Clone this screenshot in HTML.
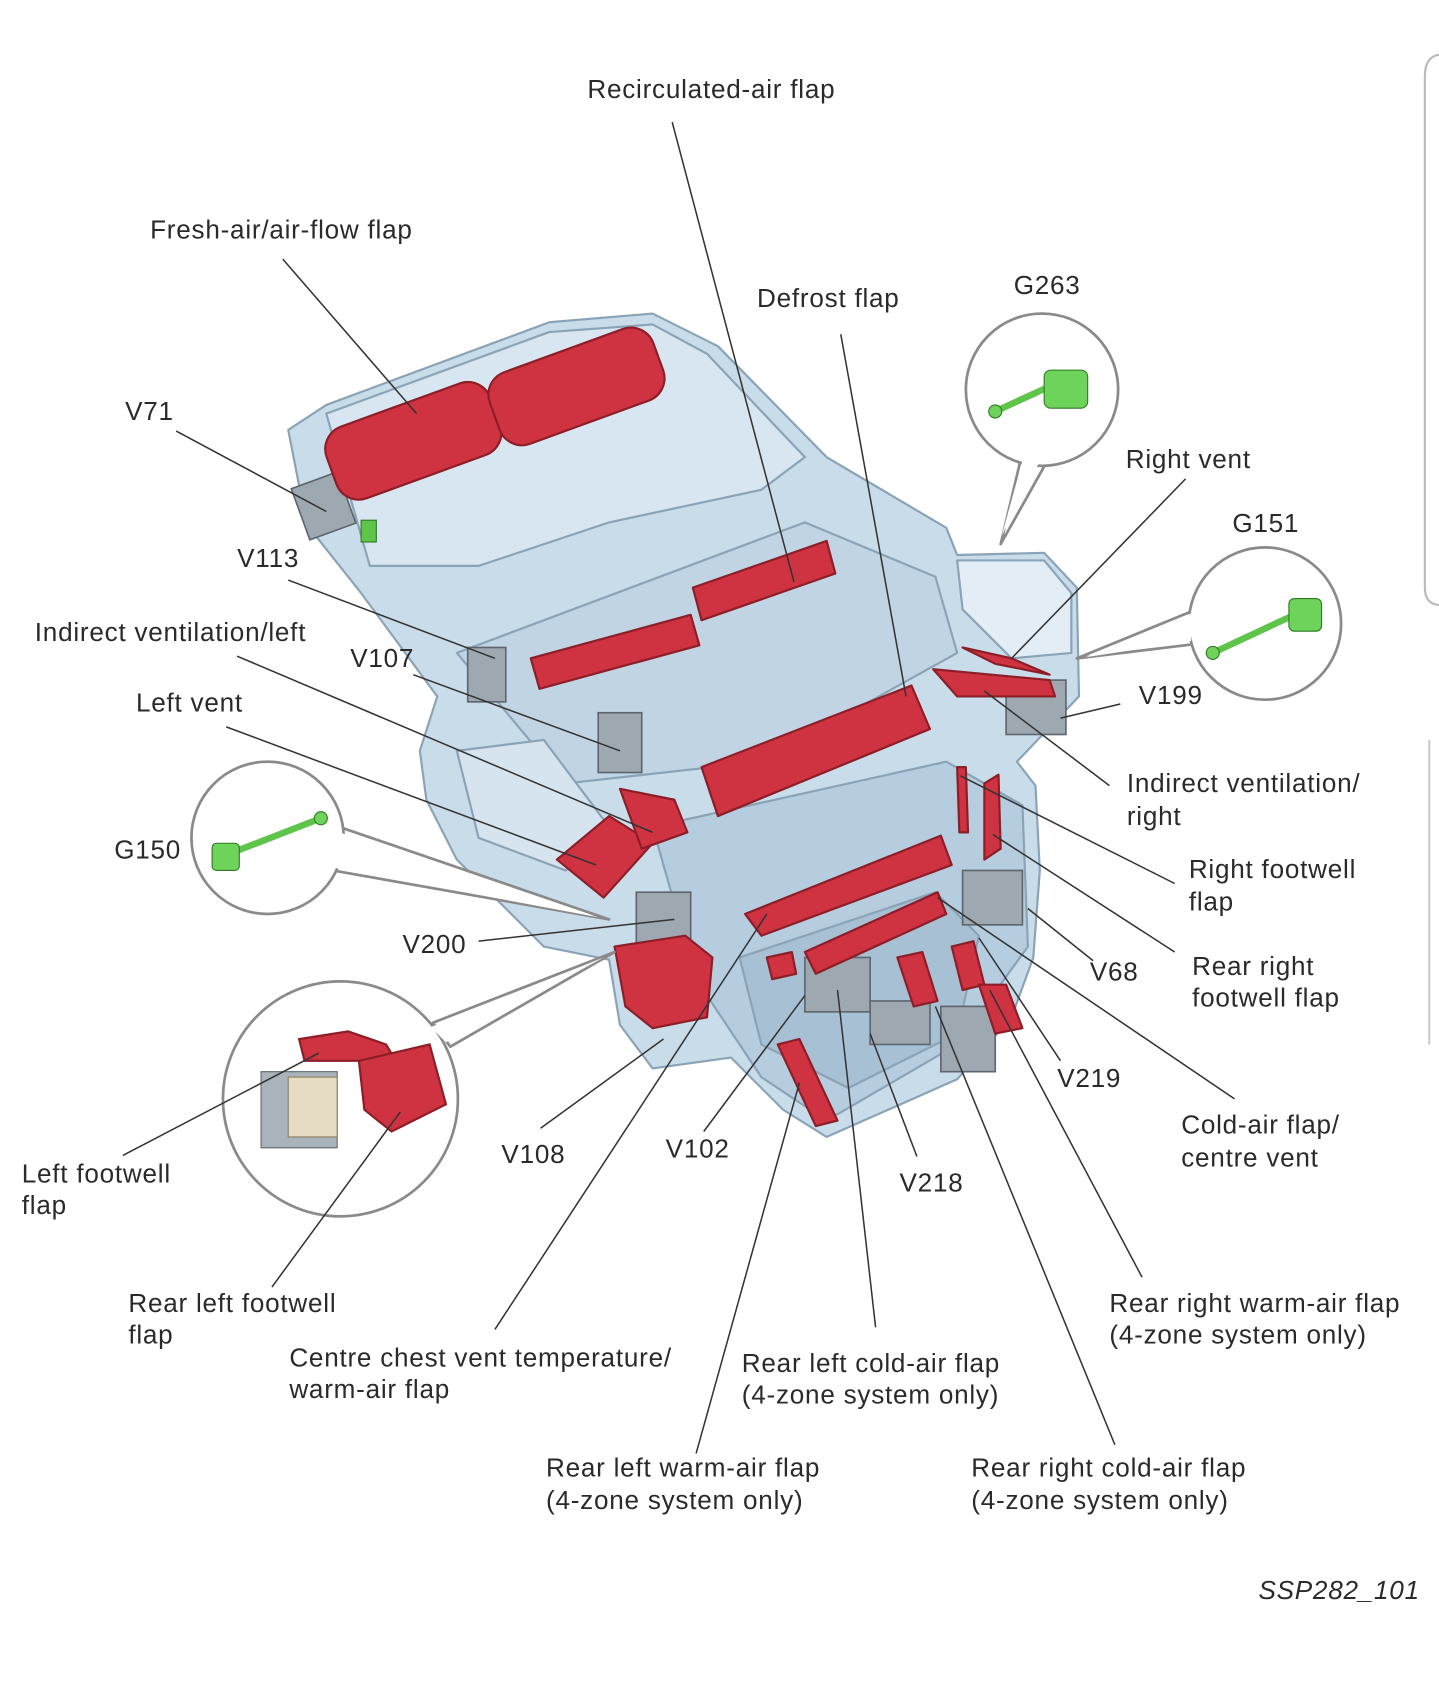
<!DOCTYPE html>
<html><head><meta charset="utf-8"><style>
html,body{margin:0;padding:0;background:#fff}
svg{display:block}
text{font-family:"Liberation Sans",sans-serif;font-size:24px;letter-spacing:0.7px;fill:#2a2a2a}
</style></head><body>
<svg width="1439" height="1705" viewBox="0 0 1323 1567" xmlns="http://www.w3.org/2000/svg">
<rect width="1323" height="1567" fill="#fff"/>
<path d="M1323,50 Q1310,52 1310,70 L1310,540 Q1310,555 1323,556" fill="none" stroke="#bbb" stroke-width="2"/>
<line x1="1314" y1="680" x2="1314" y2="960" stroke="#ccc" stroke-width="2"/>

<g stroke="#8aa3b6" stroke-width="2" stroke-linejoin="round">
<path d="M265,395 L300,372 L505,296 L600,288 L660,318 L760,420 L870,485 L880,510 L960,508 L990,540 L992,640 L935,700 L952,722 L956,800 L950,880 L930,935 L880,992 L760,1045 L720,1020 L672,972 L600,982 L570,942 L560,882 L500,870 L420,790 L392,735 L386,690 L402,640 L332,545 L282,482 Z" fill="#c9dcea"/>
<path d="M300,380 L505,305 L600,298 L650,325 L740,420 L700,450 L560,480 L440,520 L340,520 Z" fill="#d8e6f1"/>
<path d="M420,600 L740,480 L860,530 L880,600 L700,700 L520,720 Z" fill="#c0d4e4"/>
<path d="M880,515 L960,515 L985,545 L985,600 L930,605 L885,560 Z" fill="#e3edf5"/>
<path d="M600,760 L870,700 L940,740 L945,870 L880,960 L760,1030 L700,990 L640,900 Z" fill="#b6cde0"/>
<path d="M680,880 L860,820 L900,860 L880,950 L780,1000 L700,960 Z" fill="#a7c0d4"/>
<path d="M420,690 L500,680 L560,760 L520,800 L440,770 Z" fill="#d6e4ef"/>
</g>
<g fill="#9ea8b0" stroke="#5d666e" stroke-width="1.5">
<rect x="275" y="440" width="45" height="50" transform="rotate(-20 297 465)"/>
<rect x="430" y="595" width="35" height="50"/>
<rect x="550" y="655" width="40" height="55"/>
<rect x="925" y="625" width="55" height="50"/>
<rect x="885" y="800" width="55" height="50"/>
<rect x="585" y="820" width="50" height="50"/>
<rect x="740" y="880" width="60" height="50"/>
<rect x="800" y="920" width="55" height="40"/>
<rect x="865" y="925" width="50" height="60"/>
</g>
<rect x="332" y="478" width="14" height="20" fill="#5fc44a" stroke="#2d7a22"/>

<g fill="#cf3240" stroke="#8d1e28" stroke-width="2" stroke-linejoin="round">
<rect x="300" y="370" width="160" height="70" rx="22" transform="rotate(-20 380 405)"/>
<rect x="450" y="320" width="160" height="70" rx="22" transform="rotate(-20 530 355)"/>
<path d="M488,605 L635,565 L643,593 L496,633 Z"/>
<path d="M637,540 L760,497 L768,527 L645,570 Z"/>
<path d="M645,705 L838,630 L855,670 L660,750 Z"/>
<path d="M858,615 L965,625 L970,640 L880,640 Z"/>
<path d="M885,595 L930,605 L965,620 L915,610 Z"/>
<path d="M685,840 L865,768 L875,795 L700,860 Z"/>
<path d="M740,875 L862,820 L870,840 L750,895 Z"/>
<path d="M512,790 L560,750 L600,775 L555,825 Z"/>
<path d="M570,725 L620,735 L632,765 L590,780 Z"/>
<path d="M565,870 L630,860 L655,880 L650,935 L600,945 L575,925 Z"/>
<path d="M880,705 L888,705 L890,765 L882,765 Z"/>
<path d="M905,720 L918,712 L920,780 L905,790 Z"/>
<path d="M825,880 L848,875 L862,920 L840,925 Z"/>
<path d="M875,870 L895,865 L905,905 L885,910 Z"/>
<path d="M900,905 L925,905 L940,945 L915,950 Z"/>
<path d="M715,960 L735,955 L770,1030 L750,1035 Z"/>
<path d="M705,880 L728,875 L732,895 L710,900 Z"/>
</g>

<!-- callouts -->
<g fill="#fff" stroke="#8a8a8a" stroke-width="2.5" stroke-linejoin="round">
<path d="M938,424 L920,500 L962,425 Z"/>
<path d="M1100,560 L990,605 L1098,592 Z"/>
<path d="M312,760 L560,845 L306,800 Z"/>
<path d="M398,940 L565,875 L414,962 Z"/>
<circle cx="958" cy="358" r="70"/>
<circle cx="1163" cy="573" r="70"/>
<circle cx="246" cy="770" r="70"/>
<circle cx="313" cy="1010" r="108"/>
</g>
<g fill="#fff">
<path d="M941,420 L921,492 L958,420 Z"/>
<path d="M1097,563 L998,604 L1095,589 Z"/>
<path d="M309,764 L550,843 L304,797 Z"/>
<path d="M396,944 L555,880 L410,958 Z"/>
</g>
<g stroke="#2d7a22" fill="#6ed35a">
<line x1="915" y1="378" x2="965" y2="355" stroke-width="6" stroke="#5fc44a"/>
<circle cx="915" cy="378" r="6"/><rect x="960" y="340" width="40" height="35" rx="6"/>
<line x1="1115" y1="600" x2="1190" y2="565" stroke-width="6" stroke="#5fc44a"/>
<circle cx="1115" cy="600" r="6"/><rect x="1185" y="550" width="30" height="30" rx="5"/>
<line x1="210" y1="785" x2="295" y2="752" stroke-width="6" stroke="#5fc44a"/>
<circle cx="295" cy="752" r="6"/><rect x="195" y="775" width="25" height="25" rx="4"/>
</g>
<g stroke="#8d1e28" stroke-width="2" fill="#cf3240">
<path d="M275,955 L320,948 L355,960 L370,985 L330,975 L280,975 Z"/>
<path d="M330,975 L395,960 L410,1015 L360,1040 L335,1020 Z"/>
</g>
<rect x="240" y="985" width="70" height="70" fill="#aab3ba" stroke="#5d666e"/>
<rect x="265" y="990" width="45" height="55" fill="#e6dcc3" stroke="#8a7f60"/>

<g stroke="#333" stroke-width="1.4">
<line x1="618" y1="112" x2="730" y2="535"/>
<line x1="260" y1="238" x2="383" y2="380"/>
<line x1="773" y1="307" x2="833" y2="640"/>
<line x1="162" y1="396" x2="300" y2="470"/>
<line x1="1090" y1="440" x2="930" y2="605"/>
<line x1="265" y1="533" x2="455" y2="605"/>
<line x1="218" y1="603" x2="600" y2="765"/>
<line x1="380" y1="620" x2="570" y2="690"/>
<line x1="1030" y1="647" x2="975" y2="660"/>
<line x1="208" y1="668" x2="548" y2="795"/>
<line x1="1020" y1="722" x2="905" y2="635"/>
<line x1="1080" y1="812" x2="883" y2="713"/>
<line x1="1080" y1="875" x2="913" y2="767"/>
<line x1="440" y1="865" x2="620" y2="845"/>
<line x1="1005" y1="883" x2="945" y2="835"/>
<line x1="975" y1="975" x2="900" y2="862"/>
<line x1="1135" y1="1010" x2="862" y2="825"/>
<line x1="497" y1="1037" x2="610" y2="955"/>
<line x1="647" y1="1040" x2="740" y2="915"/>
<line x1="843" y1="1063" x2="800" y2="950"/>
<line x1="113" y1="1062" x2="293" y2="968"/>
<line x1="250" y1="1183" x2="368" y2="1022"/>
<line x1="1050" y1="1174" x2="910" y2="910"/>
<line x1="455" y1="1222" x2="705" y2="840"/>
<line x1="805" y1="1220" x2="770" y2="910"/>
<line x1="640" y1="1336" x2="735" y2="995"/>
<line x1="1025" y1="1328" x2="860" y2="925"/>
</g>

<text x="540" y="90">Recirculated-air flap</text>
<text x="138" y="219">Fresh-air/air-flow flap</text>
<text x="696" y="282">Defrost flap</text>
<text x="932" y="270">G263</text>
<text x="115" y="386">V71</text>
<text x="1035" y="430">Right vent</text>
<text x="1133" y="489">G151</text>
<text x="218" y="521">V113</text>
<text x="32" y="589">Indirect ventilation/left</text>
<text x="322" y="613">V107</text>
<text x="1047" y="647">V199</text>
<text x="125" y="654">Left vent</text>
<text x="1036" y="728">Indirect ventilation/</text>
<text x="1036" y="758">right</text>
<text x="105" y="789">G150</text>
<text x="1093" y="807">Right footwell</text>
<text x="1093" y="837">flap</text>
<text x="370" y="876">V200</text>
<text x="1096" y="896">Rear right</text>
<text x="1096" y="925">footwell flap</text>
<text x="1002" y="901">V68</text>
<text x="972" y="999">V219</text>
<text x="1086" y="1042">Cold-air flap/</text>
<text x="1086" y="1072">centre vent</text>
<text x="612" y="1064">V102</text>
<text x="461" y="1069">V108</text>
<text x="827" y="1095">V218</text>
<text x="20" y="1087">Left footwell</text>
<text x="20" y="1116">flap</text>
<text x="118" y="1206">Rear left footwell</text>
<text x="118" y="1235">flap</text>
<text x="1020" y="1206">Rear right warm-air flap</text>
<text x="1020" y="1235">(4-zone system only)</text>
<text x="266" y="1256">Centre chest vent temperature/</text>
<text x="266" y="1285">warm-air flap</text>
<text x="682" y="1261">Rear left cold-air flap</text>
<text x="682" y="1290">(4-zone system only)</text>
<text x="502" y="1357">Rear left warm-air flap</text>
<text x="502" y="1387">(4-zone system only)</text>
<text x="893" y="1357">Rear right cold-air flap</text>
<text x="893" y="1387">(4-zone system only)</text>
<text x="1157" y="1470" font-style="italic">SSP282_101</text>
</svg>
</body></html>
